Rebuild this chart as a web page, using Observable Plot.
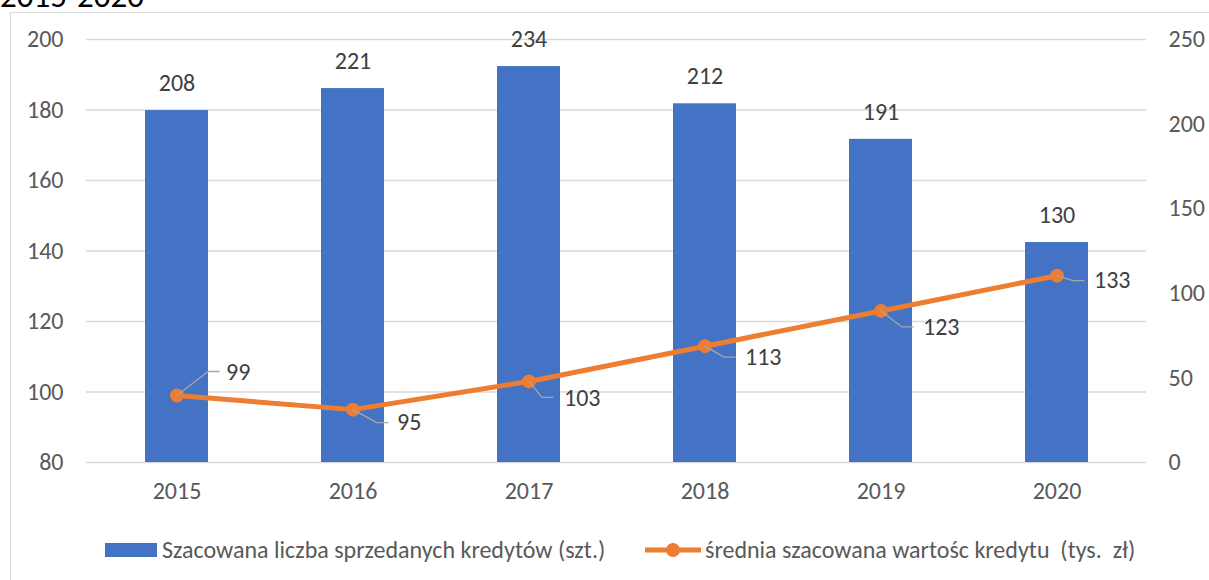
<!DOCTYPE html>
<html>
<head>
<meta charset="utf-8">
<script src="https://cdn.jsdelivr.net/npm/d3@7"></script>
<script src="https://cdn.jsdelivr.net/npm/@observablehq/plot@0.6"></script>
<style>
  body { margin: 0; background: #fff; overflow: hidden; }
  #wrap { position: relative; width: 1209px; height: 580px; overflow: hidden; font-family: Calibri, Carlito, "Open Sans", sans-serif; }
  #frame { position: absolute; left: 10px; top: 12px; width: 1400px; height: 800px; border: 1px solid #d9d9d9; }
  #title { position: absolute; left: 0; top: -20px; font-size: 33px; line-height: 33px; color: #000; white-space: nowrap; }
  #chart { position: absolute; left: 0; top: 0; }
  .lg { position: absolute; white-space: pre; font-size: 24px; line-height: 24px; color: #595959; }
</style>
</head>
<body>
<div id="wrap">
  <div id="frame"></div>
  <div id="title">2015-2020</div>
  <div id="chart"></div>
  <div id="legend"></div>
</div>
<script>
// ---- data ----
const years = ["2015", "2016", "2017", "2018", "2019", "2020"];
const loanCounts = [208, 221, 234, 212, 191, 130];           // Szacowana liczba sprzedanych kredytów (szt.) – right axis
const avgValues = [99, 95, 103, 113, 123, 133];              // średnia szacowana wartośc kredytu (tys. zł) – left axis
const leftTicks = [80, 100, 120, 140, 160, 180, 200];
const rightTicks = [0, 50, 100, 150, 200, 250];
const seriesNames = ["Szacowana liczba sprzedanych kredytów (szt.)", "średnia szacowana wartośc kredytu  (tys.  zł)"];

// ---- styling / placement config ----
const BLUE = "#4472C4", ORANGE = "#ED7D31", GRID = "#d9d9d9", AXIS_TXT = "#595959", LBL_TXT = "#404040";
const FS = 24;
// leader line elbow (dx,dy) and label start (dx,dy) for each line label, in pixels
const leaderPlacement = [[31, -24, 49, -23], [24, 13, 44, 13], [13, 16, 35, 17], [19, 11, 40, 11], [21, 16, 42, 16], [16, 5, 37, 5]];

const L0 = leftTicks[0], L1 = leftTicks[leftTicks.length - 1];
const R0 = rightTicks[0], R1 = rightTicks[rightTicks.length - 1];
const toLeft = v => L0 + (v - R0) * (L1 - L0) / (R1 - R0);
const toRight = v => R0 + (v - L0) * (R1 - R0) / (L1 - L0);

const rows = years.map((y, i) => ({year: y, count: loanCounts[i], avg: avgValues[i]}));
const FONT = 'Calibri, Carlito, "Open Sans", sans-serif';

const leaderMarks = rows.flatMap((d, i) => {
  const [ex, ey, tx, ty] = leaderPlacement[i];
  return [
    Plot.vector([d], {
      x: "year", y: "avg", length: 1, rotate: 0, anchor: "start",
      stroke: "#a6a6a6", strokeWidth: 1.3,
      shape: {draw(ctx) { ctx.moveTo(0, 0); ctx.lineTo(ex, ey); ctx.lineTo(ex + 11, ey); }}
    }),
    Plot.text([d], {
      x: "year", y: "avg", text: d => String(d.avg), dx: tx, dy: ty,
      textAnchor: "start", fontSize: FS, fill: LBL_TXT
    })
  ];
});

const chart = Plot.plot({
  width: 1209,
  height: 500,
  marginLeft: 86,
  marginRight: 63,
  marginTop: 39,
  marginBottom: 38,
  style: {fontFamily: FONT, fontSize: FS + "px", color: AXIS_TXT, background: "transparent", overflow: "visible"},
  x: {type: "band", domain: years, paddingInner: 0.644, paddingOuter: 0.322, label: null},
  y: {domain: [L0, L1], label: null},
  marks: [
    Plot.gridY(leftTicks, {stroke: GRID, strokeOpacity: 1, strokeWidth: 1.4}),
    Plot.barY(rows, {x: "year", y1: L0, y2: d => toLeft(d.count), fill: BLUE}),
    Plot.text(rows, {x: "year", y: d => toLeft(d.count), text: d => String(d.count), dy: -27, fontSize: FS, fill: LBL_TXT}),
    Plot.line(rows, {x: "year", y: "avg", stroke: ORANGE, strokeWidth: 5, curve: "linear"}),
    Plot.dot(rows, {x: "year", y: "avg", r: 7, fill: ORANGE, stroke: null}),
    ...leaderMarks,
    Plot.axisY(leftTicks, {anchor: "left", tickSize: 0, tickPadding: 23, fontSize: FS, fill: AXIS_TXT, label: null}),
    Plot.axisY(rightTicks.map(toLeft), {anchor: "right", tickSize: 0, tickPadding: 22, fontSize: FS, fill: AXIS_TXT,
      tickFormat: d => String(Math.round(toRight(d))), label: null}),
    Plot.axisX({tickSize: 0, tickPadding: 19, fontSize: FS, fill: AXIS_TXT, label: null})
  ]
});
document.getElementById("chart").appendChild(chart);

// ---- legend (HTML, below the SVG) ----
const legend = document.getElementById("legend");
legend.innerHTML = `
  <div style="position:absolute;left:105px;top:543px;width:52px;height:14px;background:${BLUE}"></div>
  <div class="lg" style="left:162px;top:538px">${seriesNames[0]}</div>
  <svg style="position:absolute;left:645px;top:540px" width="56" height="20">
    <line x1="0" y1="10" x2="56" y2="10" stroke="${ORANGE}" stroke-width="5"/>
    <circle cx="28" cy="10" r="7" fill="${ORANGE}"/>
  </svg>
  <div class="lg" style="left:705px;top:538px">${seriesNames[1]}</div>`;
</script>
</body>
</html>
